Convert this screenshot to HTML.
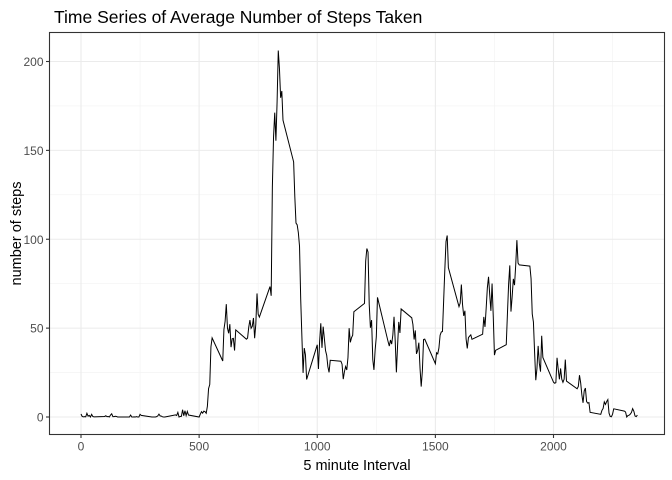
<!DOCTYPE html>
<html><head><meta charset="utf-8"><style>
body{margin:0;background:#fff}
svg{display:block;font-family:"Liberation Sans",Arial,sans-serif}
</style></head><body>
<svg id="chart" width="672" height="480"></svg>
<script>
const xTicks=[0,500,1000,1500,2000];
const yTicks=[0,50,100,150,200];
const xMinor=[250,750,1250,1750,2250];
const yMinor=[25,75,125,175];
const intervals=[];
for(let h=0;h<24;h++)for(let m=0;m<60;m+=5)intervals.push(h*100+m);
const steps=[1.7,0.3,0.1,0.2,0.1,2.1,0.5,0.9,0,1.5,0.3,0.1,
0.3,0.7,0.2,0.3,0,1.1,1.8,0.2,0.2,0.4,0.3,0,
0,0,1.1,0,0,0.1,0,0.2,0,0,1.5,0.9,
0,0,0,0,0.2,0.6,1.6,0.6,0.5,0.1,0,0,
1.2,0.9,2.6,0,0.3,0.4,4.1,0.7,3.5,0.8,3.1,1.1,
0,1.6,3,2.2,3.3,3,2.1,6.1,16,18.3,39.5,44.5,
31.5,49.3,53.8,63.5,50,47.1,52.2,39.3,44,44.2,37.4,49,
43.8,44.4,50.5,54.5,49.9,51,55.7,44.3,52.3,69.5,57.8,56.2,
73.4,68.2,129.4,157.5,171.2,155.4,177.3,206.2,195.9,179.6,183.4,167,
143.5,124,109.1,108.1,103.7,96,66.2,45.2,24.8,38.8,35,21.1,
40.6,27,42.4,52.7,38.9,50.8,44.3,37.4,34.7,28.3,25.1,31.9,
31.4,29.7,21.3,25.5,28.4,26.5,33.4,50,42,44.6,46,59.2,
63.9,87.7,94.8,92.8,63.4,50.2,54.5,32.4,26.5,37.7,45.1,67.3,
42.3,39.9,43.3,41,46.2,56.4,42.8,25.1,40,53.5,47.3,60.8,
55.8,52,43.6,48.7,35.5,37.5,41.8,27.5,17.1,26.1,43.6,43.8,
30,36.1,35.5,38.8,46,47.8,48.1,65.3,82.9,98.7,102.1,84,
62.1,64.1,74.5,63.2,56.9,59.8,43.9,38.6,44.7,45.5,46.2,43.7,
46.6,56.3,50.7,61.2,72.7,78.9,68.9,59.7,75.1,56.5,34.8,37.5,
40.7,58,74.7,85.3,59.3,67.8,77.7,74.2,85.3,99.5,86.6,85.6,
84.9,77.8,58,53.4,36.3,20.7,27.4,40,30.2,25.5,45.7,33.5,
19.6,19,19.3,33.3,26.8,21.2,27.3,21.3,19.5,21.3,32.3,20.2,
15.9,17.2,23.5,19.2,12.5,8,14.7,16.3,8.7,7.8,8.1,2.6,
1.5,3.7,4.8,8.5,7.1,8.7,9.8,2.2,0.3,0.1,1.6,4.6,
3.3,2.8,0,0.8,1,1.6,2.6,4.7,3.3,0.6,0.2,1.1];
const svg=document.getElementById('chart');
const NS='http://www.w3.org/2000/svg';
const L=49.5,R=664.5,T=32.5,B=434.5;
const xs=v=>81+v*0.23625;
const ys=v=>417-v*1.7775;
function mk(tag,attrs,parent){const e=document.createElementNS(NS,tag);for(const k in attrs)e.setAttribute(k,attrs[k]);(parent||svg).appendChild(e);return e;}
const grid=mk('g',{});


xMinor.forEach(v=>mk('line',{x1:xs(v),x2:xs(v),y1:T,y2:B,stroke:'#f2f2f2','stroke-width':0.6},grid));
yMinor.forEach(v=>mk('line',{x1:L,x2:R,y1:ys(v),y2:ys(v),stroke:'#f2f2f2','stroke-width':0.6},grid));
xTicks.forEach(v=>mk('line',{x1:xs(v),x2:xs(v),y1:T,y2:B,stroke:'#ebebeb','stroke-width':1.1},grid));
yTicks.forEach(v=>mk('line',{x1:L,x2:R,y1:ys(v),y2:ys(v),stroke:'#ebebeb','stroke-width':1.1},grid));
const pts=intervals.map((iv,i)=>xs(iv).toFixed(2)+','+ys(steps[i]).toFixed(2)).join(' ');
const line=mk('polyline',{points:pts,fill:'none',stroke:'#000','stroke-width':1});


const frame=mk('rect',{x:L,y:T,width:R-L,height:B-T,fill:'none',stroke:'#333','stroke-width':1.1});


xTicks.forEach(v=>{
mk('line',{x1:xs(v),x2:xs(v),y1:B,y2:B+3.5,stroke:'#333','stroke-width':1.1});
const t=mk('text',{x:xs(v),y:B+16,'text-anchor':'middle','font-size':12,fill:'#4d4d4d'});t.textContent=v;


});
yTicks.forEach(v=>{
mk('line',{x1:L-3.5,x2:L,y1:ys(v),y2:ys(v),stroke:'#333','stroke-width':1.1});
const t=mk('text',{x:L-6,y:ys(v)+4.5,'text-anchor':'end','font-size':12,fill:'#4d4d4d'});t.textContent=v;


});
const xt=mk('text',{x:(L+R)/2,y:470,'text-anchor':'middle','font-size':14.5,fill:'#000'});xt.textContent='5 minute Interval';


const yt=mk('text',{x:0,y:0,'text-anchor':'middle','font-size':14.5,fill:'#000',transform:'translate(21,'+((T+B)/2)+') rotate(-90)'});yt.textContent='number of steps';


const tt=mk('text',{x:54,y:23,'font-size':17.5,fill:'#000'});tt.textContent='Time Series of Average Number of Steps Taken';


</script>
</body></html>
